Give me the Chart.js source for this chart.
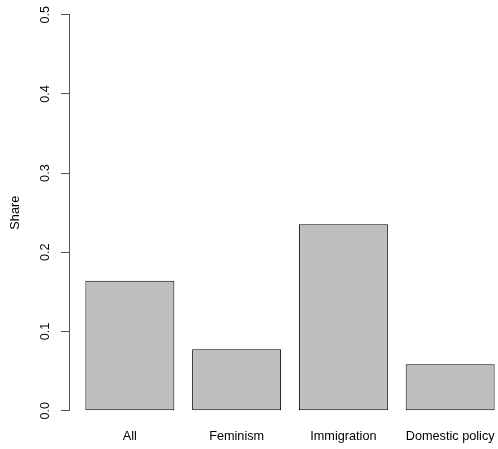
<!DOCTYPE html>
<html>
<head>
<meta charset="utf-8">
<script src="https://cdn.jsdelivr.net/npm/chart.js@4"></script>
<style>
  html, body { margin: 0; padding: 0; background: #fff; overflow: hidden; }
  #wrap { width: 498px; height: 449px; overflow: hidden; }
</style>
</head>
<body>
<div id="wrap"><canvas id="shareChart" width="520" height="449"></canvas></div>
<script>
  const categories = ["All", "Feminism", "Immigration", "Domestic policy"];
  const shares     = [0.164, 0.0775, 0.2355, 0.0585];
  const yTicks     = [0.0, 0.1, 0.2, 0.3, 0.4, 0.5];

  // barplot layout: bar width 1, space 0.2 before each bar, range padded 4%
  const barWidth = 1, barSpace = 0.2;
  const centers = categories.map((c, i) => barSpace + barWidth / 2 + i * (barWidth + barSpace));
  const xLo = barSpace, xHi = categories.length * (barWidth + barSpace);
  const xPad = (xHi - xLo) * 0.04;

  const font = { family: "'Liberation Sans', Arial, Helvetica, sans-serif", size: 12.7 };
  const axisGray = "#555";

  new Chart(document.getElementById("shareChart"), {
    type: "bar",
    data: {
      datasets: [{
        label: "Share",
        data: categories.map((c, i) => ({ x: centers[i], y: shares[i] })),
        backgroundColor: "#bebebe",
        borderColor: "#000",
        borderWidth: 1,
        borderSkipped: false,
        categoryPercentage: 1,
        barPercentage: barWidth / (barWidth + barSpace)
      }]
    },
    options: {
      responsive: false,
      animation: false,
      devicePixelRatio: 1,
      layout: { padding: { top: 14.7, right: 9, left: 0, bottom: 0 } },
      plugins: { legend: { display: false }, tooltip: { enabled: false } },
      scales: {
        x: {
          type: "linear",
          offset: false,
          min: xLo - xPad,
          max: xHi + xPad,
          grid: { display: false, drawTicks: false },
          border: { display: false },
          afterBuildTicks(scale) { scale.ticks = centers.map(v => ({ value: v })); },
          afterFit(scale) { scale.height = 38.3; },
          ticks: {
            color: "#000",
            font,
            padding: 18,
            maxRotation: 0,
            autoSkip: false,
            callback(val, i) { return categories[i]; }
          }
        },
        y: {
          min: 0,
          max: 0.5,
          afterBuildTicks(scale) { scale.ticks = yTicks.map(v => ({ value: v })); },
          afterFit(scale) { scale.width = 69; },
          grid: { drawOnChartArea: false, drawTicks: true, tickLength: 8, color: axisGray },
          border: { display: true, color: axisGray, width: 1 },
          ticks: {
            color: "#000",
            font,
            minRotation: 90,
            maxRotation: 90,
            crossAlign: "center",
            padding: 7,
            callback(val) { return val.toFixed(1); }
          },
          title: {
            display: true,
            text: "Share",
            color: "#000",
            font,
            padding: { top: 8, bottom: 0 }
          }
        }
      }
    }
  });
</script>
</body>
</html>
